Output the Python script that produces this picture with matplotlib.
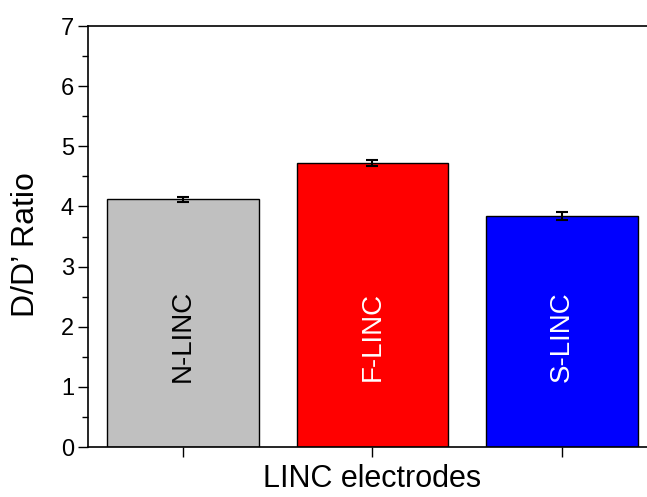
import numpy as np
import matplotlib.pyplot as plt
from matplotlib.ticker import MultipleLocator

plt.rcParams['font.family'] = ['Liberation Sans', 'DejaVu Sans']

# data
samples = ['N-LINC', 'F-LINC', 'S-LINC']
ratio = [4.12, 4.72, 3.84]
ratio_err = [0.04, 0.05, 0.07]
bar_colors = ['#c0c0c0', '#ff0000', '#0000ff']
text_colors = ['black', 'white', 'white']

fig = plt.figure(figsize=(6.47, 4.97), dpi=100)
ax = fig.add_axes([0.136, 0.1006, 0.879, 0.847])

x = np.arange(len(samples))
ax.bar(x, ratio, width=0.8, color=bar_colors, edgecolor='black', linewidth=1, zorder=2)
ax.errorbar(x, ratio, yerr=ratio_err, fmt='none', ecolor='black',
            elinewidth=1.5, capsize=4, capthick=1.5, zorder=3)

# rotated sample names inside the bars
for xi, name, tc in zip(x, samples, text_colors):
    ax.text(xi, 1.84, name, rotation=90, ha='center', va='center',
            color=tc, fontsize=20)

ax.set_xlim(-0.5, 2.5)
ax.set_ylim(0, 7)
ax.set_xticks(x)
ax.set_xticklabels([])
ax.xaxis.set_minor_locator(MultipleLocator(0.5))
ax.yaxis.set_major_locator(MultipleLocator(1))
ax.yaxis.set_minor_locator(MultipleLocator(0.5))
ax.tick_params(axis='both', which='major', direction='out', length=7, width=1, labelsize=17, pad=3)
ax.tick_params(axis='both', which='minor', direction='out', length=4, width=1)
ax.tick_params(axis='x', which='minor', length=0)

ax.spines['right'].set_visible(False)
for s in ['left', 'bottom', 'top']:
    ax.spines[s].set_linewidth(1.2)

ax.set_ylabel('D/D\u2019 Ratio', fontsize=23)
ax.yaxis.set_label_coords(-0.082, 0.48)
ax.set_xlabel('LINC electrodes', fontsize=22, labelpad=2)

fig.savefig('out.png', dpi=100)
